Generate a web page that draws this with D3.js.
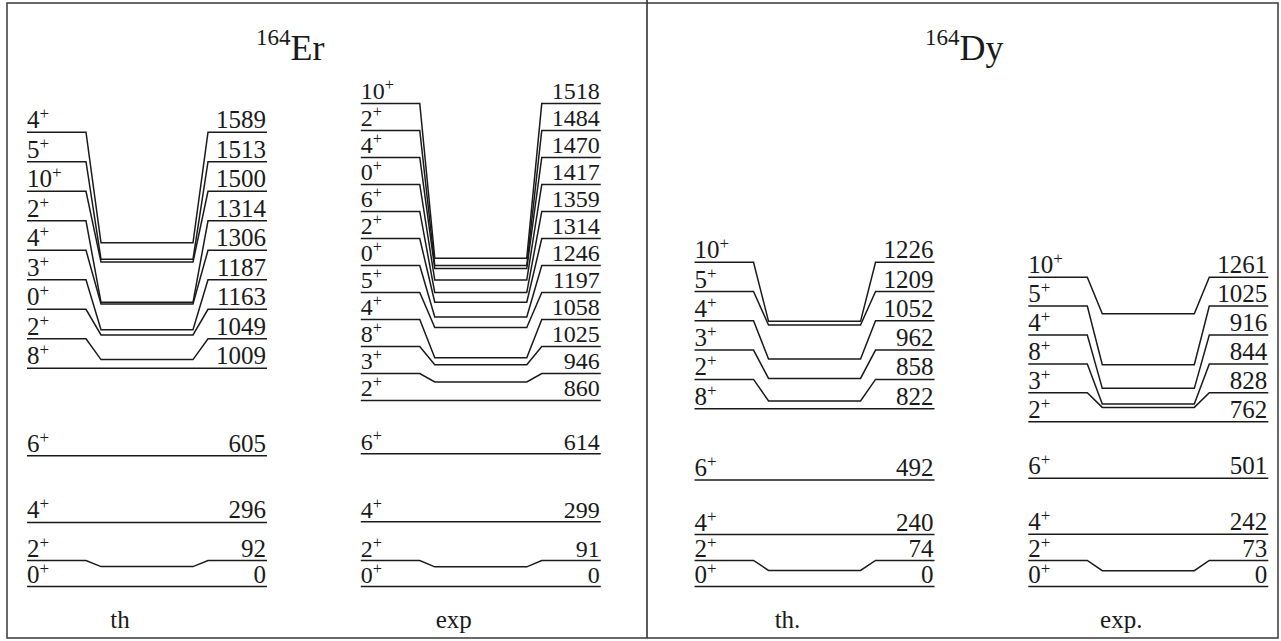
<!DOCTYPE html>
<html>
<head>
<meta charset="utf-8">
<script src="https://cdn.jsdelivr.net/npm/d3@7"></script>
<style>
  html, body { margin: 0; padding: 0; background: #fff; }
  svg { display: block; }
  text { font-family: "Liberation Serif", "Times New Roman", serif; fill: #1a1a1a; }
</style>
</head>
<body>
<svg id="chart" width="1281" height="641"></svg>
<script>
// ---------- data ----------
const nuclei = ["164Er", "164Dy"];
const panelNames = ["th", "exp", "th.", "exp."];

const erThSpin = ["0", "2", "4", "6", "8", "2", "0", "3", "4", "2", "10", "5", "4"];
const erThEnergy = [0, 92, 296, 605, 1009, 1049, 1163, 1187, 1306, 1314, 1500, 1513, 1589];

const erExpSpin = ["0", "2", "4", "6", "2", "3", "8", "4", "5", "0", "2", "6", "0", "4", "2", "10"];
const erExpEnergy = [0, 91, 299, 614, 860, 946, 1025, 1058, 1197, 1246, 1314, 1359, 1417, 1470, 1484, 1518];

const dyThSpin = ["0", "2", "4", "6", "8", "2", "3", "4", "5", "10"];
const dyThEnergy = [0, 74, 240, 492, 822, 858, 962, 1052, 1209, 1226];

const dyExpSpin = ["0", "2", "4", "6", "2", "3", "8", "4", "5", "10"];
const dyExpEnergy = [0, 73, 242, 501, 762, 828, 844, 916, 1025, 1261];

const parity = "+";

// ---------- layout ----------
const panels = [
  { spins: erThSpin, energies: erThEnergy, name: panelNames[0], gap: 29.5, fs: 25 },
  { spins: erExpSpin, energies: erExpEnergy, name: panelNames[1], gap: 27, fs: 24 },
  { spins: dyThSpin, energies: dyThEnergy, name: panelNames[2], gap: 29.3, fs: 25 },
  { spins: dyExpSpin, energies: dyExpEnergy, name: panelNames[3], gap: 28.9, fs: 25 }
];
const groundBandSize = 4;   // 0+,2+,4+,6+ stacked more tightly
const groundGap = 26;

const svg = d3.select("#chart");

const y = d3.scaleLinear().domain([0, 1600]).range([586.5, 586.5 - 0.2163 * 1600]);
const panelX = d3.scaleLinear().domain([0, 3]).range([27, 1028.3]);
const xs = d3.scaleLinear().domain([0, 1]).range([0, 240]);
const knots = [0, 59 / 240, 74 / 240, 166 / 240, 181 / 240, 1];

// frame
svg.append("rect")
  .attr("x", 7).attr("y", 3).attr("width", 1271).attr("height", 635)
  .attr("fill", "none").attr("stroke", "#444").attr("stroke-width", 1.6);
svg.append("line")
  .attr("x1", 647).attr("x2", 647).attr("y1", 0).attr("y2", 638)
  .attr("stroke", "#333").attr("stroke-width", 1.6);

// titles
const titleX = [256, 925];
nuclei.forEach((n, i) => {
  const t = svg.append("text").attr("x", titleX[i]).attr("y", 60);
  const m = n.match(/^(\d+)(.*)$/);
  t.append("tspan").attr("font-size", 23).attr("dy", -15).text(m[1]);
  t.append("tspan").attr("font-size", 36).attr("dy", 15).text(m[2]);
});

const line = d3.line().x(d => d[0]).y(d => d[1]);

panels.forEach((p, pi) => {
  const x0 = panelX(pi);
  const g = svg.append("g").attr("transform", `translate(${x0},0)`);

  const levels = p.energies.map((e, i) => ({ e, spin: p.spins[i], ty: y(e) }));
  let prev = Infinity;
  levels.forEach((l, i) => {
    const gap = i < groundBandSize ? groundGap : p.gap;
    l.ly = Math.min(l.ty, prev - gap);
    if (l.ty - l.ly < 1.5) l.ly = l.ty;
    prev = l.ly;
  });

  g.selectAll("path.level").data(levels).join("path")
    .attr("class", "level")
    .attr("fill", "none")
    .attr("stroke", "#1a1a1a")
    .attr("stroke-width", 1.5)
    .attr("d", l => line([
      [xs(knots[0]), l.ly], [xs(knots[1]), l.ly],
      [xs(knots[2]), l.ty], [xs(knots[3]), l.ty],
      [xs(knots[4]), l.ly], [xs(knots[5]), l.ly]
    ]));

  const sp = g.selectAll("text.spin").data(levels).join("text")
    .attr("class", "spin")
    .attr("x", xs(0)).attr("y", l => l.ly - 4)
    .attr("font-size", p.fs);
  sp.append("tspan").text(l => l.spin);
  sp.append("tspan").attr("font-size", p.fs * 0.68).attr("dy", -9).text(parity);

  g.selectAll("text.energy").data(levels).join("text")
    .attr("class", "energy")
    .attr("x", xs(1) - 1).attr("y", l => l.ly - 4)
    .attr("text-anchor", "end")
    .attr("font-size", p.fs)
    .text(l => l.e);

  g.append("text")
    .attr("x", xs(0.5) - 27).attr("y", 628)
    .attr("text-anchor", "middle")
    .attr("font-size", 25)
    .text(p.name);
});
</script>
</body>
</html>
